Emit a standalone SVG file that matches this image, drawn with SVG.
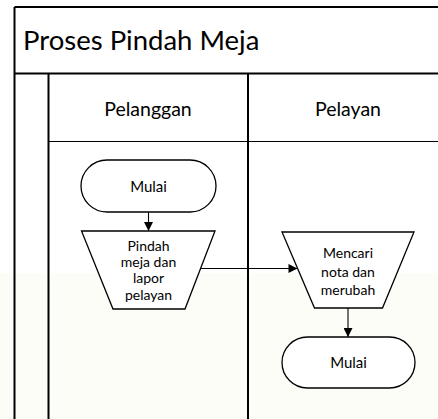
<svg xmlns="http://www.w3.org/2000/svg" width="438" height="419" viewBox="0 0 438 419">
<defs>
<style>
.frame{fill:none;stroke:#000;stroke-width:2}
.thin{fill:none;stroke:#000;stroke-width:1.2}
.shape{fill:#fff;stroke:#000;stroke-width:1.3}
.conn{fill:none;stroke:#000;stroke-width:1.1}
text{font-family:Lato,"Liberation Sans",sans-serif;fill:#000}
.title{font-size:27.5px}
.lane{font-size:19.5px;text-anchor:middle}
.lbl{font-size:14px;text-anchor:middle}
.term{font-size:15px;text-anchor:middle}
</style>
<marker id="arr" viewBox="0 0 10 10" refX="10" refY="5" markerWidth="10" markerHeight="9" markerUnits="userSpaceOnUse" orient="auto">
<path d="M0,0 L10,5 L0,10 Z" fill="#000"/>
</marker>
</defs>
<rect x="0" y="0" width="438" height="419" fill="#fff"/>
<rect x="0" y="273" width="438" height="146" fill="#fdfdf8"/>
<g id="pool">
<line class="frame" x1="14.5" y1="7" x2="438" y2="7"/>
<line class="frame" x1="14.5" y1="7" x2="14.5" y2="419"/>
<line class="frame" x1="14.5" y1="73.5" x2="438" y2="73.5"/>
<line class="frame" x1="48.5" y1="73.5" x2="48.5" y2="419"/>
<line class="frame" x1="248" y1="73.5" x2="248" y2="419"/>
<line class="thin" x1="48.5" y1="141.5" x2="438" y2="141.5"/>
<text class="title" x="23" y="50">Proses Pindah Meja</text>
</g>
<g id="lane-pelanggan"><text class="lane" x="148" y="116">Pelanggan</text></g>
<g id="lane-pelayan"><text class="lane" x="348" y="116">Pelayan</text></g>
<g id="start">
<rect class="shape" x="81" y="160" width="135" height="52" rx="26"/>
<text class="term" x="148.5" y="191.5">Mulai</text>
</g>
<g id="pindah">
<polygon class="shape" points="81.5,231 215,231 185,309 113,309"/>
<text class="lbl" x="148.5" y="251">Pindah</text>
<text class="lbl" x="148.5" y="267">meja dan</text>
<text class="lbl" x="148.5" y="283">lapor</text>
<text class="lbl" x="148.5" y="300">pelayan</text>
</g>
<g id="mencari">
<polygon class="shape" points="282,232 414,232 382.5,308 314.5,308"/>
<text class="lbl" x="348" y="258">Mencari</text>
<text class="lbl" x="348" y="276.5">nota dan</text>
<text class="lbl" x="348" y="295">merubah</text>
</g>
<g id="end">
<rect class="shape" x="282" y="337" width="133" height="51" rx="25.5"/>
<text class="term" x="348.5" y="368">Mulai</text>
</g>
<g id="connectors">
<line class="conn" x1="148.5" y1="212" x2="148.5" y2="231" marker-end="url(#arr)"/>
<line class="conn" x1="201" y1="268.5" x2="297.5" y2="268.5" marker-end="url(#arr)"/>
<line class="conn" x1="348" y1="308" x2="348" y2="337" marker-end="url(#arr)"/>
</g>
</svg>
